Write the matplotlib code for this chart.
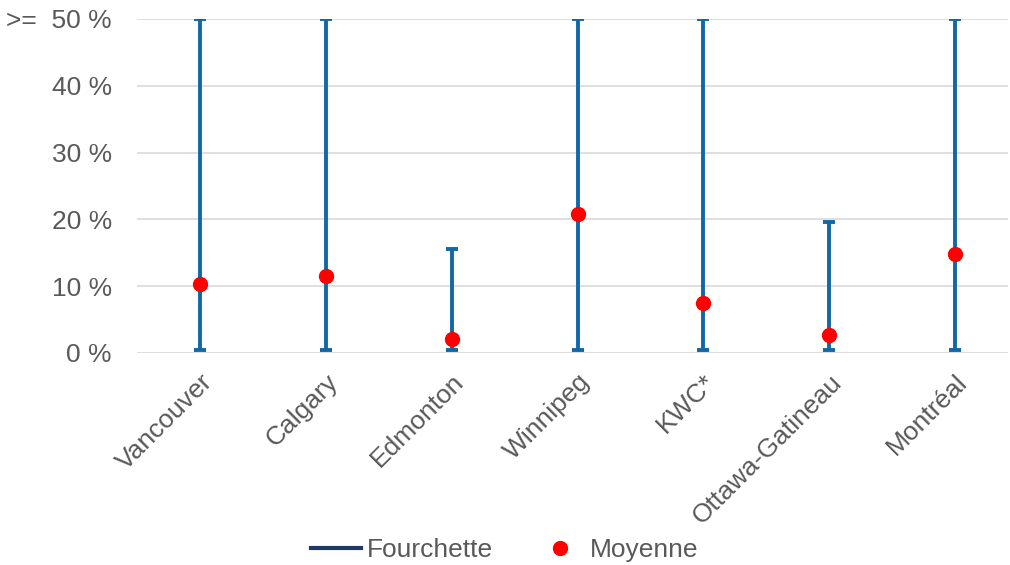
import matplotlib.pyplot as plt
from matplotlib.lines import Line2D

plt.rcParams['font.family'] = ['Liberation Sans', 'DejaVu Sans']

villes = ['Vancouver', 'Calgary', 'Edmonton', 'Winnipeg', 'KWC*', 'Ottawa-Gatineau', 'Montréal']
bas = [0.5, 0.5, 0.5, 0.5, 0.5, 0.5, 0.5]
haut = [50, 50, 15.6, 50, 50, 19.6, 50]
moyenne = [10.4, 11.5, 2.1, 20.8, 7.5, 2.7, 14.8]
yticks = [0, 10, 20, 30, 40, 50]
ytick_labels = ['0 %', '10 %', '20 %', '30 %', '40 %', '>=  50 %']

bleu = '#1267A6'
gris = '#595959'

fig = plt.figure(figsize=(10.1, 5.65), dpi=100)
ax = fig.add_axes([137 / 1010, 1 - 353 / 565, (1008 - 137) / 1010, (353 - 19) / 565])

x = list(range(len(villes)))
mid = [(b + h) / 2 for b, h in zip(bas, haut)]
err = [[m - b for m, b in zip(mid, bas)], [h - m for h, m in zip(haut, mid)]]
ax.errorbar(x, mid, yerr=err, fmt='none', ecolor=bleu, elinewidth=2.8,
            capsize=4.5, capthick=2.8, zorder=3)
ax.plot(x, moyenne, 'o', color='#FF0000', markersize=10, zorder=4)

ax.set_xlim(-0.5, 6.42)
ax.set_ylim(0, 50)
ax.set_yticks(yticks)
ax.set_yticklabels(ytick_labels)
ax.set_xticks(x)
ax.set_xticklabels(villes, rotation=45, ha='right', rotation_mode='anchor')
ax.tick_params(axis='both', length=0, labelsize=19, labelcolor=gris)
ax.tick_params(axis='y', pad=18)
ax.tick_params(axis='x', pad=12)
ax.grid(axis='y', color='#D9D9D9', linewidth=1.2)
ax.set_axisbelow(True)
for s in ax.spines.values():
    s.set_visible(False)

handles = [Line2D([], [], color='#1F3864', linewidth=3),
           Line2D([], [], marker='o', color='#FF0000', linestyle='none', markersize=10)]
fig.legend(handles, ['Fourchette', 'Moyenne'], loc='lower center', ncol=2,
           bbox_to_anchor=(0.5, -0.037), frameon=False, fontsize=19,
           labelcolor=gris, columnspacing=1.6, handlelength=1.9, handletextpad=0.2)

fig.savefig('out.png', dpi=100)
